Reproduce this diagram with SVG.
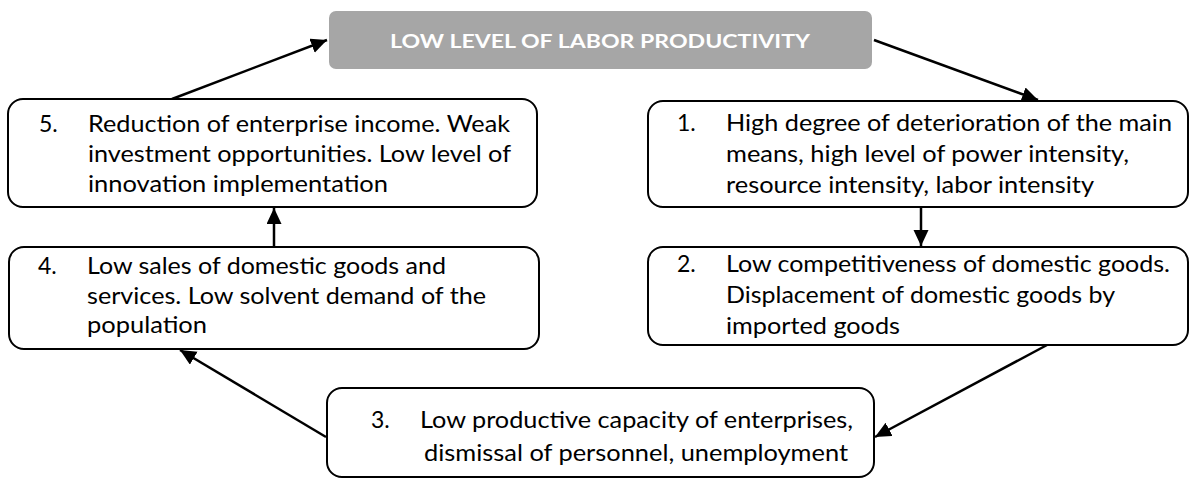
<svg xmlns="http://www.w3.org/2000/svg" width="1190" height="480" viewBox="0 0 1190 480">
<style>
.box{fill:#fff;stroke:#000;stroke-width:2}
.title{fill:#a6a6a6;stroke:none}
.t{font-family:Lato,"Liberation Sans",sans-serif;font-size:23px;fill:#000}
.tt{font-family:Lato,"Liberation Sans",sans-serif;font-size:19px;font-weight:bold;fill:#fff}
.arr{stroke:#000;stroke-width:2.5;fill:none;marker-end:url(#ah)}
</style>
<defs>
<marker id="ah" markerUnits="userSpaceOnUse" markerWidth="18" markerHeight="16" refX="16" refY="7.5" orient="auto">
<path d="M0,0 L16,7.5 L0,15 z" fill="#000"/>
</marker>
</defs>
<g id="connectors">
<line class="arr" x1="172" y1="99" x2="327" y2="40"/>
<line class="arr" x1="874" y1="40" x2="1038" y2="100"/>
<line class="arr" x1="921" y1="207" x2="921" y2="246"/>
<line class="arr" x1="1047" y1="345" x2="875" y2="437"/>
<line class="arr" x1="326" y1="437" x2="180" y2="350"/>
<line class="arr" x1="274" y1="247" x2="274" y2="208"/>
</g>
<g id="node-title">
<rect class="title" x="329" y="11" width="543" height="58" rx="7"/>
<text class="tt" x="600" y="48" text-anchor="middle" textLength="420" lengthAdjust="spacingAndGlyphs">LOW LEVEL OF LABOR PRODUCTIVITY</text>
</g>
<g id="node-1">
<rect class="box" x="648" y="101" width="540" height="106" rx="15"/>
<text class="t" x="677" y="131">1.</text>
<text class="t" x="726" y="131" textLength="446" lengthAdjust="spacingAndGlyphs">High degree of deterioration of the main</text>
<text class="t" x="726" y="162" textLength="403" lengthAdjust="spacingAndGlyphs">means, high level of power intensity,</text>
<text class="t" x="726" y="193" textLength="368" lengthAdjust="spacingAndGlyphs">resource intensity, labor intensity</text>
</g>
<g id="node-2">
<rect class="box" x="648" y="247" width="540" height="98" rx="15"/>
<text class="t" x="677" y="272">2.</text>
<text class="t" x="726" y="272" textLength="444" lengthAdjust="spacingAndGlyphs">Low competitiveness of domestic goods.</text>
<text class="t" x="726" y="303" textLength="389" lengthAdjust="spacingAndGlyphs">Displacement of domestic goods by</text>
<text class="t" x="726" y="334" textLength="174" lengthAdjust="spacingAndGlyphs">imported goods</text>
</g>
<g id="node-3">
<rect class="box" x="327" y="388" width="547" height="89" rx="15"/>
<text class="t" x="371" y="428">3.</text>
<text class="t" x="420" y="428" textLength="433" lengthAdjust="spacingAndGlyphs">Low productive capacity of enterprises,</text>
<text class="t" x="424" y="461" textLength="424" lengthAdjust="spacingAndGlyphs">dismissal of personnel, unemployment</text>
</g>
<g id="node-4">
<rect class="box" x="9" y="247" width="530" height="102" rx="15"/>
<text class="t" x="38" y="274">4.</text>
<text class="t" x="87" y="274" textLength="359" lengthAdjust="spacingAndGlyphs">Low sales of domestic goods and</text>
<text class="t" x="87" y="304" textLength="399" lengthAdjust="spacingAndGlyphs">services. Low solvent demand of the</text>
<text class="t" x="87" y="333" textLength="120" lengthAdjust="spacingAndGlyphs">population</text>
</g>
<g id="node-5">
<rect class="box" x="8" y="99" width="529" height="108" rx="15"/>
<text class="t" x="39" y="132">5.</text>
<text class="t" x="88" y="132" textLength="422" lengthAdjust="spacingAndGlyphs">Reduction of enterprise income. Weak</text>
<text class="t" x="88" y="162" textLength="423" lengthAdjust="spacingAndGlyphs">investment opportunities. Low level of</text>
<text class="t" x="88" y="192" textLength="300" lengthAdjust="spacingAndGlyphs">innovation implementation</text>
</g>
</svg>
